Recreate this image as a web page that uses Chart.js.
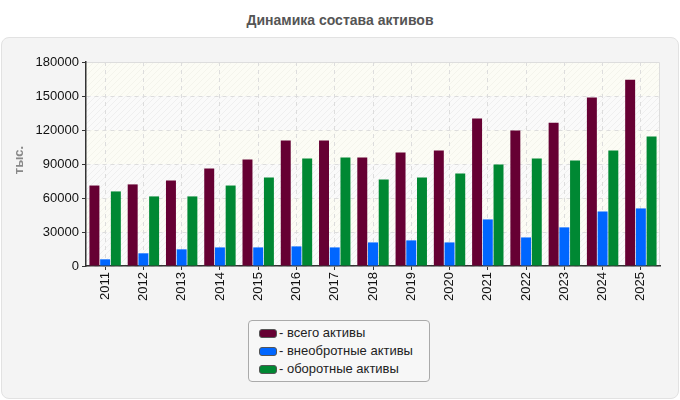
<!DOCTYPE html>
<html>
<head>
<meta charset="utf-8">
<script src="https://cdn.jsdelivr.net/npm/chart.js@4"></script>
<style>
  body { margin: 0; background: #fff; font-family: Arial, "Liberation Sans", sans-serif; }
  #wrap { position: relative; width: 680px; height: 400px; overflow: hidden; }
  #title { position: absolute; top: 12px; left: 0; width: 680px; text-align: center;
           font-size: 14px; font-weight: bold; color: #555; }
  #panel { position: absolute; left: 1px; top: 37px; width: 676px; height: 360px;
           background: #f4f4f4; border: 1px solid #e2e2e2; border-radius: 8px; }
  #chart { position: absolute; left: 0; top: 0; }
  #legend { position: absolute; left: 248px; top: 320px; width: 182px; height: 62px;
            border: 1px solid #aaa; border-radius: 4px; background: #f7f7f7;
            font-size: 13px; color: #222; box-sizing: border-box; padding: 3px 0 0 10px; }
  .item { height: 18px; line-height: 18px; white-space: nowrap; }
  .sw { display: inline-block; width: 18px; height: 9px; border-radius: 3px; border: 1px solid #555;
        vertical-align: -1px; margin-right: 2px; box-sizing: border-box; }
</style>
</head>
<body>
<div id="wrap">
  <div id="title">Динамика состава активов</div>
  <div id="panel"></div>
  <canvas id="chart" width="680" height="400"></canvas>
  <div id="legend"></div>
</div>
<script>
const years = ['2011', '2012', '2013', '2014', '2015', '2016', '2017', '2018',
               '2019', '2020', '2021', '2022', '2023', '2024', '2025'];
const totalAssets   = [71000, 72000, 75500, 86000, 94000, 110700, 110700, 95700,
                       100100, 101900, 130100, 119500, 126500, 148600, 164400];
const fixedAssets   = [5900, 11200, 14700, 16400, 16400, 17300, 16400, 20800,
                       22600, 20800, 41100, 25200, 34100, 48100, 50800];
const currentAssets = [65800, 61400, 61400, 71000, 78100, 94800, 95700, 76300,
                       78100, 81600, 89500, 94800, 93100, 101900, 114200];
const seriesNames = ['всего активы', 'внеобротные активы', 'оборотные активы'];
const seriesColors = ['#660033', '#0066ff', '#008833'];

// hatch pattern for the plot background
function makeHatch(bg, line) {
    const c = document.createElement('canvas');
    c.width = 6; c.height = 6;
    const g = c.getContext('2d');
    g.fillStyle = bg;
    g.fillRect(0, 0, 6, 6);
    g.strokeStyle = line;
    g.lineWidth = 1;
    g.beginPath();
    g.moveTo(0, 6); g.lineTo(6, 0);
    g.moveTo(-1, 1); g.lineTo(1, -1);
    g.moveTo(5, 7); g.lineTo(7, 5);
    g.stroke();
    return g.createPattern(c, 'repeat');
}

const plotBackground = {
    id: 'plotBackground',
    beforeDraw(chart) {
        const { ctx, chartArea: a, scales } = chart;
        const y = scales.y;
        const hatchA = makeHatch('#fcfcf5', '#f4f4ec');
        const hatchB = makeHatch('#fafafa', '#efefef');
        ctx.save();
        const ticks = y.ticks;
        for (let i = 0; i < ticks.length - 1; i++) {
            const top = y.getPixelForValue(ticks[i + 1].value);
            const bot = y.getPixelForValue(ticks[i].value);
            ctx.fillStyle = (ticks.length - 2 - i) % 2 === 0 ? hatchA : hatchB;
            ctx.fillRect(a.left, top, a.right - a.left, bot - top);
        }
        ctx.strokeStyle = '#dddddd';
        ctx.lineWidth = 1;
        ctx.beginPath();
        ctx.moveTo(a.left, a.top + 0.5);
        ctx.lineTo(a.right - 0.5, a.top + 0.5);
        ctx.lineTo(a.right - 0.5, a.bottom);
        ctx.stroke();
        // y axis caption
        ctx.translate(19, 160);
        ctx.rotate(-Math.PI / 2);
        ctx.fillStyle = '#888';
        ctx.font = 'bold 13px Arial, "Liberation Sans", sans-serif';
        ctx.textAlign = 'center';
        ctx.textBaseline = 'middle';
        ctx.fillText('тыс.', 0, 0);
        ctx.restore();
    }
};

const datasets = [totalAssets, fixedAssets, currentAssets].map((d, i) => ({
    label: seriesNames[i],
    data: d,
    backgroundColor: seriesColors[i],
    borderWidth: 0,
    categoryPercentage: 0.84,
    barPercentage: 0.93
}));

new Chart(document.getElementById('chart'), {
    type: 'bar',
    data: { labels: years, datasets: datasets },
    options: {
        responsive: false,
        animation: false,
        layout: { padding: { left: 0, right: 20, top: 62, bottom: 84 } },
        plugins: {
            legend: { display: false },
            tooltip: { enabled: false }
        },
        scales: {
            x: {
                afterFit: (axis) => { axis.height = 50; },
                grid: {
                    offset: false,
                    color: '#dddddd',
                    tickColor: '#333',
                    tickLength: 4,
                    tickBorderDash: []
                },
                border: { color: '#333', width: 1.5, dash: [4, 4] },
                ticks: {
                    minRotation: 90,
                    maxRotation: 90,
                    color: '#111',
                    padding: 2,
                    font: { size: 13, family: 'Arial, "Liberation Sans", sans-serif' }
                }
            },
            y: {
                min: 0,
                max: 180000,
                afterFit: (axis) => { axis.width = 86; },
                grid: { color: '#dddddd', tickColor: '#333', tickLength: 4, tickBorderDash: [] },
                border: { color: '#333', width: 1.5, dash: [4, 4] },
                ticks: {
                    stepSize: 30000,
                    color: '#111',
                    padding: 3,
                    callback: (v) => String(v),
                    font: { size: 13, family: 'Arial, "Liberation Sans", sans-serif' }
                }
            }
        }
    },
    plugins: [plotBackground]
});

const legend = document.getElementById('legend');
seriesNames.forEach((name, i) => {
    const row = document.createElement('div');
    row.className = 'item';
    row.innerHTML = '<span class="sw" style="background:' + seriesColors[i] + '"></span>- ' + name;
    legend.appendChild(row);
});
</script>
</body>
</html>
